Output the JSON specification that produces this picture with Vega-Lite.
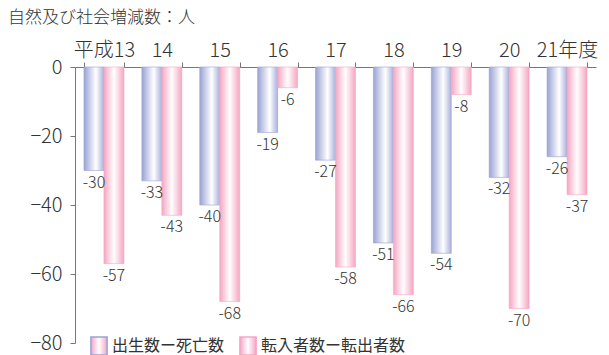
{
  "$schema": "https://vega.github.io/schema/vega-lite/v6.json",
  "width": 521,
  "height": 276,
  "autosize": "none",
  "padding": {"left": 75, "top": 67, "right": 13, "bottom": 12},
  "background": "white",
  "config": {"font": "Noto Sans CJK JP", "view": {"stroke": null}},
  "title": {"text": "自然及び社会増減数：人", "anchor": "start", "frame": "group", "dx": -67, "offset": 13, "fontSize": 17, "fontWeight": 300, "color": "#333"},
  "data": {"values": [
    {"year": "平成13", "series": "出生数ー死亡数", "value": -30},
    {"year": "平成13", "series": "転入者数ー転出者数", "value": -57},
    {"year": "14", "series": "出生数ー死亡数", "value": -33},
    {"year": "14", "series": "転入者数ー転出者数", "value": -43},
    {"year": "15", "series": "出生数ー死亡数", "value": -40},
    {"year": "15", "series": "転入者数ー転出者数", "value": -68},
    {"year": "16", "series": "出生数ー死亡数", "value": -19},
    {"year": "16", "series": "転入者数ー転出者数", "value": -6},
    {"year": "17", "series": "出生数ー死亡数", "value": -27},
    {"year": "17", "series": "転入者数ー転出者数", "value": -58},
    {"year": "18", "series": "出生数ー死亡数", "value": -51},
    {"year": "18", "series": "転入者数ー転出者数", "value": -66},
    {"year": "19", "series": "出生数ー死亡数", "value": -54},
    {"year": "19", "series": "転入者数ー転出者数", "value": -8},
    {"year": "20", "series": "出生数ー死亡数", "value": -32},
    {"year": "20", "series": "転入者数ー転出者数", "value": -70},
    {"year": "21年度", "series": "出生数ー死亡数", "value": -26},
    {"year": "21年度", "series": "転入者数ー転出者数", "value": -37}
  ]},
  "encoding": {
    "x": {"field": "year", "type": "nominal", "sort": null,
      "scale": {"paddingInner": 0.31, "paddingOuter": 0.155},
      "axis": {"orient": "top", "title": null, "labelAngle": 0, "tickBand": "extent", "tickSize": 5, "tickColor": "#777", "domainColor": "#777", "labelFontSize": 20, "labelFontWeight": 300, "labelColor": "#333", "labelPadding": 2}},
    "xOffset": {"field": "series", "type": "nominal", "scale": {"domain": ["出生数ー死亡数", "転入者数ー転出者数"]}},
    "y": {"field": "value", "type": "quantitative",
      "scale": {"domain": [-80, 0], "nice": false},
      "axis": {"title": null, "values": [0, -20, -40, -60, -80], "grid": false, "tickSize": 5, "tickColor": "#777", "domainColor": "#777", "labelFontSize": 20, "labelFontWeight": 300, "labelColor": "#333", "labelPadding": 8, "labelExpr": "replace(datum.label, '-', '−')"}}
  },
  "layer": [
    {
      "mark": {"type": "bar", "strokeWidth": 0.6},
      "encoding": {
        "fill": {
          "condition": {"test": "datum.series === '出生数ー死亡数'", "value": {"gradient": "linear", "x1": 0, "y1": 0, "x2": 1, "y2": 0, "stops": [{"offset": 0, "color": "#9aa3d4"}, {"offset": 0.6, "color": "#ffffff"}, {"offset": 1, "color": "#aab1dc"}]}},
          "value": {"gradient": "linear", "x1": 0, "y1": 0, "x2": 1, "y2": 0, "stops": [{"offset": 0, "color": "#f5a6c2"}, {"offset": 0.5, "color": "#ffffff"}, {"offset": 1, "color": "#f5a6c2"}]}
        },
        "stroke": {"field": "series", "type": "nominal",
          "scale": {"domain": ["出生数ー死亡数", "転入者数ー転出者数"], "range": ["#9aa3d4", "#f5a6c2"]},
          "legend": {"title": null, "orient": "none", "direction": "horizontal", "legendX": 14, "legendY": 269, "symbolType": "M-0.9,-1H0.9V1H-0.9Z", "symbolSize": 324, "labelFontSize": 16, "labelFontWeight": 400, "labelColor": "#333", "labelLimit": 300, "columnPadding": 11, "labelOffset": 3,
            "encode": {"symbols": {"update": {
              "fill": [
                {"test": "datum.value === '出生数ー死亡数'", "value": {"gradient": "linear", "x1": 0, "y1": 0, "x2": 1, "y2": 0, "stops": [{"offset": 0, "color": "#9aa3d4"}, {"offset": 0.6, "color": "#ffffff"}, {"offset": 1, "color": "#aab1dc"}]}},
                {"value": {"gradient": "linear", "x1": 0, "y1": 0, "x2": 1, "y2": 0, "stops": [{"offset": 0, "color": "#f5a6c2"}, {"offset": 0.5, "color": "#ffffff"}, {"offset": 1, "color": "#f5a6c2"}]}}
              ],
              "strokeWidth": {"value": 0},
              "opacity": {"value": 1}
            }}}}}
      }
    },
    {
      "mark": {"type": "text", "baseline": "top", "dy": 4, "fontSize": 16, "fontWeight": 300, "color": "#333"},
      "encoding": {"text": {"field": "value", "type": "nominal"}}
    }
  ]
}
